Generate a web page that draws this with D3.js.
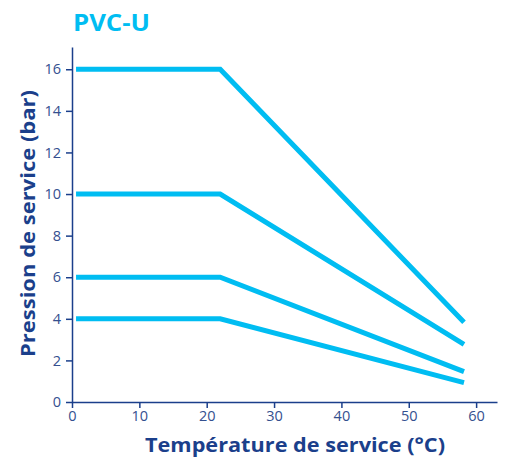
<!DOCTYPE html>
<html><head><meta charset="utf-8">
<script src="https://cdn.jsdelivr.net/npm/d3@7"></script>
<style>body{margin:0;background:#fff}svg{display:block}</style>
</head><body>
<script>
const temps = [0.6, 22, 58.2];
const series = [
  {name: "16 bar", values: [16, 16, 3.83]},
  {name: "10 bar", values: [10, 10, 2.77]},
  {name: "6 bar", values: [6, 6, 1.46]},
  {name: "4 bar", values: [4, 4, 0.93]}
];
const xTicks = [0, 10, 20, 30, 40, 50, 60];
const yTicks = [0, 2, 4, 6, 8, 10, 12, 14, 16];

const W = 509, H = 459;
const m = {left: 72, top: 47, right: 12, bottom: 57};
const svg = d3.select("body").append("svg").attr("width", W).attr("height", H);
const x = d3.scaleLinear().domain([0, 63.1]).range([m.left, W - m.right]);
const y = d3.scaleLinear().domain([0, 17.07]).range([H - m.bottom, m.top]);
const navy = "#1b3f8b", tickCol = "#34508f", cyan = "#00bdf2";
const font = "'Open Sans', Lato, sans-serif";

const xa = svg.append("g").attr("transform", `translate(0,${y(0)})`)
  .call(d3.axisBottom(x).tickValues(xTicks).tickSize(6).tickSizeOuter(0).tickPadding(3));
const ya = svg.append("g").attr("transform", `translate(${x(0)},0)`)
  .call(d3.axisLeft(y).tickValues(yTicks).tickSize(6).tickSizeOuter(0).tickPadding(5));
[xa, ya].forEach(a => {
  a.select(".domain").attr("stroke", navy).attr("stroke-width", 1.5);
  a.selectAll(".tick line").attr("stroke", navy).attr("stroke-width", 1.5);
  a.selectAll("text").attr("fill", tickCol).style("font-family", font).style("font-size", "14.5px");
});

const line = d3.line().x((d, i) => x(temps[i])).y(d => y(d));
svg.append("g").selectAll("path").data(series).join("path")
  .attr("d", d => line(d.values))
  .attr("fill", "none").attr("stroke", cyan).attr("stroke-width", 5)
  .attr("stroke-linejoin", "miter").attr("stroke-linecap", "butt");

svg.append("text").attr("x", 73).attr("y", 31).text("PVC-U")
  .attr("textLength", 77).attr("lengthAdjust", "spacingAndGlyphs")
  .attr("fill", cyan).style("font-family", font).style("font-weight", "bold").style("font-size", "23px");
svg.append("text").attr("x", 145).attr("y", 452)
  .text("Température de service (°C)")
  .attr("textLength", 300).attr("lengthAdjust", "spacingAndGlyphs")
  .attr("fill", navy).style("font-family", font).style("font-weight", "bold").style("font-size", "20px");
svg.append("text").attr("transform", `translate(35,357) rotate(-90)`)
  .text("Pression de service (bar)")
  .attr("textLength", 267).attr("lengthAdjust", "spacingAndGlyphs")
  .attr("fill", navy).style("font-family", font).style("font-weight", "bold").style("font-size", "19px");
</script>
</body></html>
